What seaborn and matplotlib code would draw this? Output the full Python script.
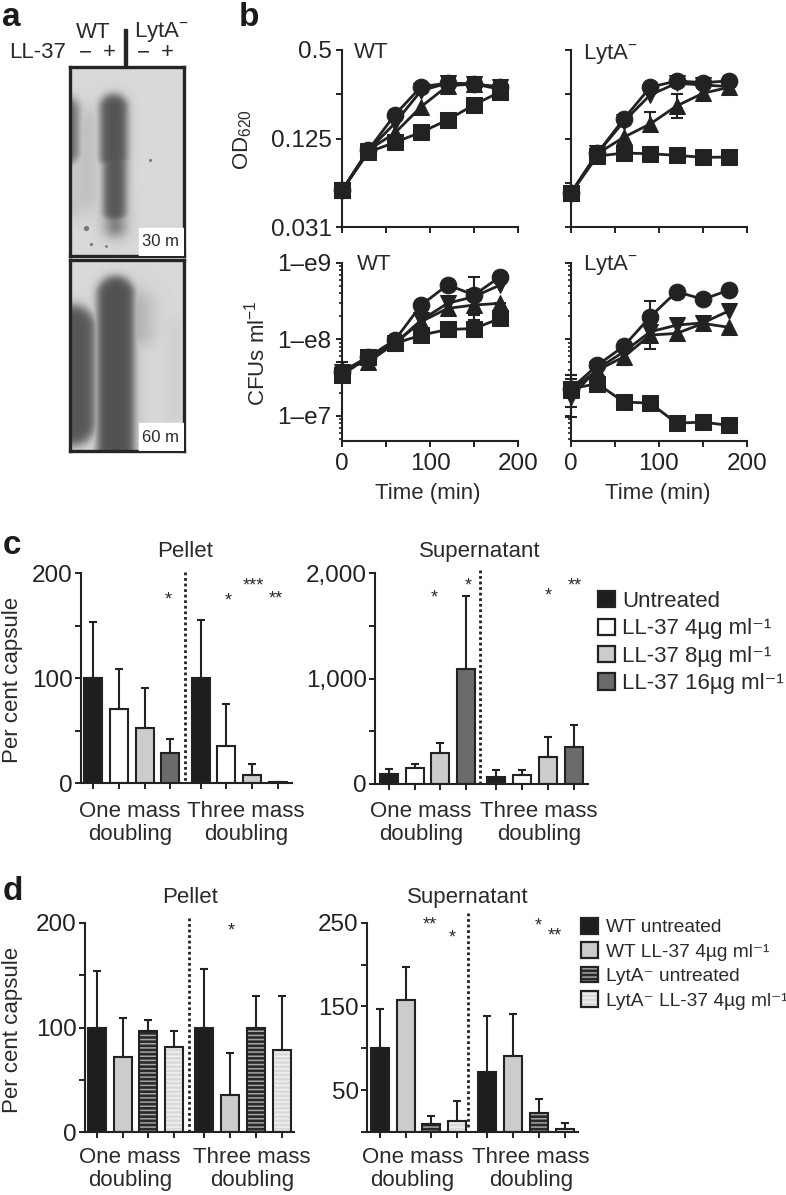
import numpy as np
import pandas as pd
import matplotlib
matplotlib.use('Agg')
import matplotlib.pyplot as plt
import seaborn as sns
from matplotlib.colors import to_rgba
from matplotlib.patches import Patch, Rectangle

W, H = 786, 1195

# ---- panel b data ----
TIME = [0, 30, 60, 90, 120, 150, 180]
DOSES = ['d0', 'd4', 'd8', 'd16']  # square, circle, triangle up, triangle down

od_wt_square = [0.0554, 0.101, 0.1175, 0.138, 0.167, 0.212, 0.26]
od_wt_circle = [0.0554, 0.1045, 0.181, 0.282, 0.297, 0.294, 0.279]
od_wt_up = [0.0554, 0.1045, 0.136, 0.206, 0.285, 0.294, 0.27]
od_wt_down = [0.0554, 0.1035, 0.159, 0.265, 0.297, 0.294, 0.279]

od_lyt_square = [0.0532, 0.095, 0.0995, 0.0985, 0.096, 0.093, 0.0935]
od_lyt_circle = [0.0532, 0.0995, 0.17, 0.279, 0.308, 0.30, 0.308]
od_lyt_up = [0.0532, 0.0985, 0.1275, 0.157, 0.208, 0.254, 0.279]
od_lyt_down = [0.0532, 0.0995, 0.163, 0.2475, 0.297, 0.289, 0.282]

cfu_wt_square = [0.34e8, 0.592e8, 0.886e8, 1.14e8, 1.35e8, 1.39e8, 1.89e8]
cfu_wt_circle = [0.376e8, 0.592e8, 0.98e8, 2.82e8, 5.17e8, 3.82e8, 6.65e8]
cfu_wt_up = [0.417e8, 0.509e8, 0.886e8, 1.71e8, 2.55e8, 2.82e8, 2.97e8]
cfu_wt_down = [0.376e8, 0.592e8, 0.886e8, 1.79e8, 2.97e8, 3.63e8, 5.17e8]

cfu_lyt_square = [0.227e8, 0.264e8, 0.152e8, 0.147e8, 0.0805e8, 0.083e8, 0.075e8]
cfu_lyt_circle = [0.227e8, 0.46e8, 0.818e8, 1.98e8, 4.22e8, 3.35e8, 4.44e8]
cfu_lyt_up = [0.216e8, 0.396e8, 0.592e8, 1.14e8, 1.2e8, 1.62e8, 1.44e8]
cfu_lyt_down = [0.177e8, 0.416e8, 0.689e8, 1.26e8, 1.54e8, 1.65e8, 2.38e8]

# error bars: time, low, high
od_lyt_err = [(90, 0.1415, 0.188), (120, 0.172, 0.25)]
cfu_wt_err = [(0, 0.29e8, 0.5e8), (150, 1.8e8, 6.65e8), (150, 1.7e8, 2.1e8), (180, 1.6e8, 3.0e8)]
cfu_lyt_err = [(0, 0.0966e8, 0.34e8), (0, 0.13e8, 0.3e8), (60, 0.46e8, 0.9e8), (90, 0.76e8, 3.18e8)]

# ---- panel c and d data ----
COND_C = ['Untreated', 'LL-37 4µg ml⁻¹', 'LL-37 8µg ml⁻¹', 'LL-37 16µg ml⁻¹']
COND_D = ['WT untreated', 'WT LL-37 4µg ml⁻¹', 'LytA⁻ untreated', 'LytA⁻ LL-37 4µg ml⁻¹']

c_pellet = [100, 71, 53, 29, 100, 36, 8, 1]
c_pellet_top = [154, 109, 91, 42, 156, 76, 18, 1.5]
c_super = [95, 152, 290, 1093, 63, 88, 253, 351]
c_super_top = [142, 190, 389, 1788, 133, 133, 446, 562]
d_pellet = [100, 72, 97, 81, 100, 36, 100, 79]
d_pellet_top = [154, 109, 107.5, 96.7, 156, 76, 130, 130]
d_super = [100, 158, 9.5, 13.5, 72, 91, 23, 4]
d_super_top = [146.6, 197.5, 18.7, 37.4, 138.7, 141.5, 39, 10.7]

POS = [0, 1, 2, 3, 4.18, 5.18, 6.18, 7.18]

INK = '#232122'
TXT = '#2b2a2b'
FACES_C = ['#1f1d1e', '#ffffff', '#cbcccd', '#6a6b6d']
FACES_D = ['#1f1d1e', '#cbcccd', '#2a2829', '#dadadb']
STRIPES_D = [None, None, '#a5a5a5', '#f1f1f1']

sns.set_theme(style='ticks', rc={
    'text.color': TXT, 'axes.labelcolor': TXT, 'xtick.color': INK, 'ytick.color': INK,
    'axes.edgecolor': INK, 'axes.linewidth': 1.5, 'xtick.major.width': 1.4,
    'ytick.major.width': 1.4, 'xtick.major.size': 4, 'ytick.major.size': 4,
    'ytick.minor.width': 1.2, 'ytick.minor.size': 2.2, 'hatch.linewidth': 1.1,
})
plt.rcParams['font.family'] = ['Liberation Sans', 'DejaVu Sans']
plt.rcParams['mathtext.fontset'] = 'custom'
plt.rcParams['mathtext.rm'] = 'Liberation Sans'
plt.rcParams['mathtext.default'] = 'rm'

FS = 16
TICK_FS = 17.5

fig = plt.figure(figsize=(W / 100, H / 100), dpi=100, facecolor='white')


def box(left, top, right, bottom):
    return fig.add_axes([left / W, 1 - bottom / H, (right - left) / W, (bottom - top) / H])


def txt(x, y, s, ha='center', va='center', size=FS, **kw):
    fig.text(x / W, 1 - y / H, s, ha=ha, va=va, size=size, **kw)


def band(xx, yy, x0, x1, y0, y1, soft):
    cx, cy = (x0 + x1) / 2, (y0 + y1) / 2
    hx, hy = (x1 - x0) / 2, (y1 - y0) / 2
    r = min(hx, hy)
    dx = np.abs(xx - cx) - hx + r
    dy = np.abs(yy - cy) - hy + r
    d = np.hypot(np.maximum(dx, 0), np.maximum(dy, 0)) + np.minimum(np.maximum(dx, dy), 0) - r
    return 1 / (1 + np.exp(d / soft))


def gel(top, bottom, bands, specks, label):
    ax = box(70, top, 184, bottom)
    xx, yy = np.meshgrid(np.arange(70, 184, 0.5), np.arange(top, bottom, 0.5))
    dark = np.zeros(xx.shape)
    for b in bands:
        dark = np.maximum(dark, b[4] * band(xx, yy, b[0], b[1], b[2], b[3], b[5]))
    img = 0.85 * (1 - dark)
    ax.imshow(img, cmap='gray', vmin=0, vmax=1, extent=(70, 184, bottom, top), aspect='auto')
    for sx, sy, ss in specks:
        ax.scatter([sx], [sy], s=ss, color='#777777', linewidths=0)
    ax.add_patch(Rectangle((139, bottom - 28), 45, 28, color='white', zorder=3))
    ax.text(161, bottom - 14, label, ha='center', va='center', size=12, zorder=4)
    ax.set_xlim(70, 184)
    ax.set_ylim(bottom, top)
    ax.set_xticks([])
    ax.set_yticks([])
    for s in ax.spines.values():
        s.set_linewidth(2.4)
        s.set_color('#262425')


def line_panel(rect, square, circle, up, down, errs, log_base, ylim):
    ax = box(*rect)
    df = pd.DataFrame({
        'time': TIME * 4,
        'value': square + circle + up + down,
        'dose': sum([[d] * len(TIME) for d in DOSES], []),
    })
    sns.lineplot(data=df, x='time', y='value', style='dose', style_order=DOSES,
                 markers={'d0': 's', 'd4': 'o', 'd8': '^', 'd16': 'v'}, dashes=False,
                 color=INK, linewidth=2.0, markersize=12, markeredgecolor=INK,
                 errorbar=None, legend=False, clip_on=False, ax=ax)
    for t, lo, hi in errs:
        ax.vlines(t, lo, hi, color=INK, lw=1.5, clip_on=False)
        ax.plot([t, t], [lo, hi], ls='none', marker='_', ms=9, mew=1.5, color=INK, clip_on=False)
    ax.set_yscale('log', base=log_base)
    ax.set_xlim(0, 200)
    ax.set_ylim(*ylim)
    ax.set_xticks([0, 50, 100, 150, 200])
    ax.set_xlabel('')
    ax.set_ylabel('')
    ax.patch.set_alpha(0)
    sns.despine(ax=ax)
    return ax


def bar_panel(rect, first_px, values, tops, conds, faces, stripes, yticks, ylabels, minor_top, divider):
    left, top, right, bottom = rect
    ax = box(*rect)
    df = pd.DataFrame({'pos': POS, 'value': values, 'cond': conds * 2})
    palette = dict(zip(conds, faces))
    sns.barplot(data=df, x='pos', y='value', hue='cond', hue_order=conds, palette=palette,
                dodge=False, native_scale=True, width=0.7, edgecolor=INK, linewidth=1.5,
                errorbar=None, legend=False, ax=ax)
    for p in ax.patches:
        idx = int(np.argmin(np.abs(np.array(POS) - (p.get_x() + p.get_width() / 2)))) % 4
        if stripes[idx]:
            p.set_hatch('----')
            p._hatch_color = to_rgba(stripes[idx])
    low = np.zeros(len(POS))
    high = np.array(tops) - np.array(values)
    ax.errorbar(POS, values, yerr=[low, high], fmt='none', ecolor=INK, elinewidth=1.5,
                capsize=3, capthick=1.5, zorder=4)
    ax.set_xlim((left - first_px) / 25.7, (right - first_px) / 25.7)
    ax.set_ylim(0, minor_top)
    ax.set_xticks(POS)
    ax.set_xticklabels([])
    ax.set_yticks(yticks)
    ax.set_yticklabels(ylabels, size=TICK_FS)
    ax.set_xlabel('')
    ax.set_ylabel('')
    ax.tick_params(axis='y', pad=2)
    div_x, div_top, div_bot = divider
    data_x = (div_x - first_px) / 25.7
    y_of = lambda py: (bottom - py) / (bottom - top) * minor_top
    ax.plot([data_x, data_x], [y_of(div_top), y_of(div_bot)], color=INK, ls=(0, (1, 1)), lw=2,
            clip_on=False, zorder=5)
    ax.patch.set_alpha(0)
    sns.despine(ax=ax)
    return ax


def legend_handles(conds, faces, stripes):
    out = []
    for c, f, s in zip(conds, faces, stripes):
        h = Patch(facecolor=f, edgecolor=INK, linewidth=1.6, label=c)
        if s:
            h.set_hatch('----')
            h._hatch_color = to_rgba(s)
        out.append(h)
    return out


# ---- panel a ----
gel(67, 256,
    [(100, 127, 95, 170, 0.61, 2.5), (103, 126, 120, 222, 0.60, 2.5), (106, 124, 190, 235, 0.45, 4),
     (50, 78, 98, 165, 0.55, 3), (72, 100, 110, 210, 0.12, 6), (68, 82, 150, 215, 0.12, 5)],
    [(86, 228, 14), (91, 244, 5), (106, 246, 4), (150, 160, 5)], '30 m')
gel(260, 451,
    [(50, 95, 305, 445, 0.60, 3), (97, 134, 276, 470, 0.62, 2.5),
     (118, 150, 292, 345, 0.2, 6), (125, 140, 340, 440, 0.1, 5), (168, 180, 320, 420, 0.05, 6)],
    [], '60 m')

txt(93, 32, 'WT')
txt(134, 32, 'LytA$^{-}$', ha='left')
txt(66, 53, 'LL-37', ha='right')
for x, s in zip([85, 109, 143, 167], ['−', '+', '−', '+']):
    txt(x, 53, s)
fig.add_artist(Rectangle((124.5 / W, 1 - 65 / H), 3 / W, 36 / H, color='#262425', transform=fig.transFigure))

# ---- panel b ----
OD_LIM = (0.03125, 0.5)
CFU_LIM = (4.7e6, 1e9)
for rect, data, errs in [
    ((342, 50, 518, 227), (od_wt_square, od_wt_circle, od_wt_up, od_wt_down), []),
    ((571, 50, 747, 227), (od_lyt_square, od_lyt_circle, od_lyt_up, od_lyt_down), od_lyt_err),
]:
    ax = line_panel(rect, *data, errs, 2, OD_LIM)
    ax.set_xticklabels([])
    ax.set_yticks([0.5, 0.25, 0.125, 0.0625, 0.03125])
    ax.set_yticks([], minor=True)
    if rect[0] == 342:
        ax.set_yticklabels(['0.5', '', '0.125', '', '0.031'], size=TICK_FS)
    else:
        ax.set_yticklabels([])

for rect, data, errs in [
    ((342, 263, 518, 441), (cfu_wt_square, cfu_wt_circle, cfu_wt_up, cfu_wt_down), cfu_wt_err),
    ((571, 263, 747, 441), (cfu_lyt_square, cfu_lyt_circle, cfu_lyt_up, cfu_lyt_down), cfu_lyt_err),
]:
    ax = line_panel(rect, *data, errs, 10, CFU_LIM)
    ax.set_xticklabels(['0', '', '100', '', '200'], size=TICK_FS)
    ax.tick_params(axis='x', pad=5)
    ax.set_yticks([1e7, 1e8, 1e9])
    if rect[0] == 342:
        ax.set_yticklabels(['1–e7', '1–e8', '1–e9'], size=TICK_FS)
    else:
        ax.set_yticklabels([])
    ax.yaxis.set_minor_locator(matplotlib.ticker.LogLocator(base=10, subs=np.arange(2, 10), numticks=12))
    ax.yaxis.set_minor_formatter(matplotlib.ticker.NullFormatter())

txt(354, 52, 'WT', ha='left')
txt(583, 54, 'LytA$^{-}$', ha='left')
txt(357, 265, 'WT', ha='left')
txt(583, 265, 'LytA$^{-}$', ha='left')
txt(243, 140, 'OD$_{620}$', rotation=90)
txt(257, 353, 'CFUs ml$^{-1}$', rotation=90)
txt(428, 493, 'Time (min)')
txt(658, 493, 'Time (min)')

# ---- panel c ----
bar_panel((81, 573.3, 292, 783.3), 93.3, c_pellet, c_pellet_top, COND_C, FACES_C, [None] * 4,
          [0, 50, 100, 150, 200], ['0', '', '100', '', '200'], 200, (185, 572, 783))
ax_c2 = bar_panel((375, 573.3, 588, 784), 389, c_super, c_super_top, COND_C, FACES_C, [None] * 4,
                  [0, 500, 1000, 1500, 2000], ['0', '', '1,000', '', '2,000'], 2000, (480.3, 570, 784))
txt(185, 551.7, 'Pellet')
txt(480, 551.7, 'Supernatant')
txt(13, 680, 'Per cent capsule', rotation=90)
for x, s in [(130, 'One mass\ndoubling'), (246, 'Three mass\ndoubling'),
             (421, 'One mass\ndoubling'), (539, 'Three mass\ndoubling')]:
    txt(x, 823, s, linespacing=1.1)
for x, y, s in [(168, 600, '*'), (228, 601, '*'), (253, 586, '***'), (276, 599, '**'),
                (434, 598, '*'), (468, 586, '*'), (548, 596, '*'), (575, 586, '**')]:
    txt(x, y, s, size=13)
ax_c2.legend(handles=legend_handles(COND_C, FACES_C, [None] * 4), loc='upper left',
             bbox_to_anchor=(598 / W, 1 - 591 / H), bbox_transform=fig.transFigure, frameon=False,
             fontsize=FS, handlelength=0.75, handleheight=0.75, handletextpad=0.35,
             labelspacing=0.29, borderpad=0, borderaxespad=0)

# ---- panel d ----
bar_panel((85, 922.7, 294, 1132.3), 97, d_pellet, d_pellet_top, COND_D, FACES_D, STRIPES_D,
          [0, 50, 100, 150, 200], ['0', '', '100', '', '200'], 200, (189, 918, 1132))
ax_d2 = bar_panel((367, 922.7, 577.7, 1132), 380, d_super, d_super_top, COND_D, FACES_D, STRIPES_D,
                  [0, 50, 100, 150, 200, 250], ['', '50', '', '150', '', '250'], 250, (468.3, 913, 1128))
txt(190, 897.7, 'Pellet')
txt(468, 897.7, 'Supernatant')
txt(13, 1030, 'Per cent capsule', rotation=90)
for x, s in [(130, 'One mass\ndoubling'), (252, 'Three mass\ndoubling'),
             (412.5, 'One mass\ndoubling'), (531, 'Three mass\ndoubling')]:
    txt(x, 1169, s, linespacing=1.1)
for x, y, s in [(231.7, 931, '*'), (430, 925, '**'), (452, 938, '*'), (538, 926, '*'), (555, 936, '**')]:
    txt(x, y, s, size=13)
ax_d2.legend(handles=legend_handles(COND_D, FACES_D, STRIPES_D), loc='upper left',
             bbox_to_anchor=(581 / W, 1 - 918 / H), bbox_transform=fig.transFigure, frameon=False,
             fontsize=13.8, handlelength=0.88, handleheight=0.88, handletextpad=0.4,
             labelspacing=0.31, borderpad=0, borderaxespad=0)

# panel letters
for x, y, s in [(2, 18, 'a'), (239, 18, 'b'), (3, 546, 'c'), (3, 892, 'd')]:
    txt(x, y, s, ha='left', size=24, fontweight='bold', color='#1c1a1b')

fig.savefig('out.png', dpi=100)
